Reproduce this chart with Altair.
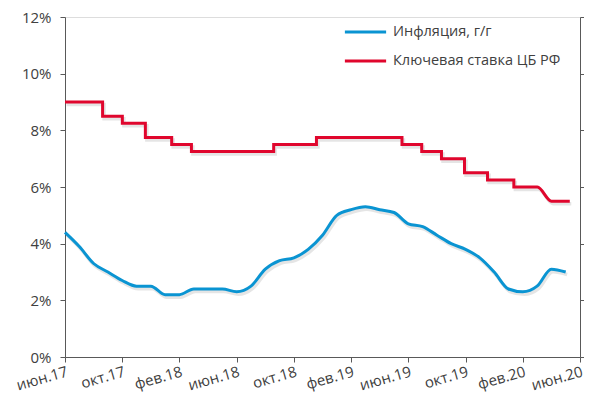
import altair as alt
import pandas as pd

# ---- data ----
tick_labels = ["июн.17", "окт.17", "фев.18", "июн.18", "окт.18", "фев.19",
               "июн.19", "окт.19", "фев.20", "июн.20"]
tick_months = [0, 4, 8, 12, 16, 20, 24, 28, 32, 36]

infl_months = list(range(36))  # month-ends from June 2017
inflation = [4.4, 3.9, 3.3, 3.0, 2.7, 2.5, 2.5, 2.2, 2.2, 2.4, 2.4, 2.4,
             2.3, 2.5, 3.1, 3.4, 3.5, 3.8, 4.3, 5.0, 5.2, 5.3, 5.2, 5.1,
             4.7, 4.6, 4.3, 4.0, 3.8, 3.5, 3.0, 2.4, 2.3, 2.5, 3.1, 3.0]

rate_dates = ["2017-06-30", "2017-09-18", "2017-10-30", "2017-12-18",
              "2018-02-12", "2018-03-26", "2018-09-17", "2018-12-17",
              "2019-06-17", "2019-07-29", "2019-09-09", "2019-10-28",
              "2019-12-16", "2020-02-10"]
rate_values = [9.0, 8.5, 8.25, 7.75, 7.5, 7.25, 7.5, 7.75, 7.5, 7.25,
               7.0, 6.5, 6.25, 6.0]
rate_tail_dates = ["2020-03-31", "2020-04-30", "2020-06-08"]
rate_tail_values = [6.0, 5.5, 5.5]

S_INF = "Инфляция, г/г"
S_KEY = "Ключевая ставка ЦБ РФ"

start = pd.Timestamp("2017-06-30")
def to_month(d):
    return (pd.Timestamp(d) - start).days / 30.4375

rows = []
for i, (m, v) in enumerate(zip(infl_months, inflation)):
    rows.append({"series": S_INF, "m": m, "v": v, "o": i})
seq = 0
rows.append({"series": S_KEY, "m": to_month(rate_dates[0]), "v": rate_values[0], "o": seq})
for i in range(1, len(rate_dates)):
    seq += 1
    rows.append({"series": S_KEY, "m": to_month(rate_dates[i]), "v": rate_values[i - 1], "o": seq})
    seq += 1
    rows.append({"series": S_KEY, "m": to_month(rate_dates[i]), "v": rate_values[i], "o": seq})
for d, v in zip(rate_tail_dates, rate_tail_values):
    seq += 1
    rows.append({"series": S_KEY, "m": to_month(d), "v": v, "o": seq})
df = pd.DataFrame(rows)

FONT = "Open Sans"
AX = "#595959"
TXT = "#404040"
FS = 15

label_js = "[" + ",".join("'" + t + "'" for t in tick_labels) + "]"

x = alt.X("m:Q", scale=alt.Scale(domain=[0, 36], nice=False, zero=False),
          axis=alt.Axis(values=tick_months, title=None, grid=False,
                        labelExpr=label_js + "[round(datum.value/4)]",
                        labelAngle=-16, labelAlign="right", labelBaseline="top",
                        labelPadding=2, tickSize=5, labelFlush=False,
                        labelOverlap=False, labelBound=False,
                        labelFontSize=FS, labelFont=FONT, labelColor=TXT,
                        domainColor=AX, tickColor=AX))
yscale = alt.Scale(domain=[0, 12], nice=False)

color = alt.Color("series:N",
                  scale=alt.Scale(domain=[S_INF, S_KEY], range=["#0A94D2", "#E0062D"]),
                  legend=alt.Legend(title=None, orient="none", legendX=278, legendY=-7.5,
                                    symbolType="stroke", symbolSize=1700,
                                    symbolStrokeWidth=3, rowPadding=-14,
                                    labelFontSize=14.5, labelFont=FONT, labelLimit=0,
                                    labelColor=TXT, labelOffset=5))

base = alt.Chart(df)

shadow = base.mark_line(strokeWidth=3.5, interpolate="monotone", color="#000000",
                        opacity=0.1, xOffset=1.5, yOffset=2.5).encode(
    x=x,
    y=alt.Y("v:Q", scale=yscale, axis=None),
    order="o:Q",
    detail="series:N",
)

lines = base.mark_line(strokeWidth=3, interpolate="monotone").encode(
    x=x,
    y=alt.Y("v:Q", scale=yscale,
            axis=alt.Axis(values=[0, 2, 4, 6, 8, 10, 12], title=None, grid=False,
                          labelExpr="datum.value + '%'", orient="left",
                          tickSize=5, labelPadding=9,
                          labelFontSize=FS, labelFont=FONT, labelColor=TXT,
                          domainColor=AX, tickColor=AX)),
    color=color,
    order="o:Q",
    detail="series:N",
)

right_axis = base.mark_line(opacity=0).encode(
    x=x,
    y=alt.Y("v:Q", scale=yscale,
            axis=alt.Axis(values=[0, 2, 4, 6, 8, 10, 12], title=None, grid=False,
                          labels=False, orient="right", tickSize=4,
                          domainColor=AX, tickColor=AX)),
    detail="series:N",
)

chart = alt.layer(shadow, lines, right_axis).resolve_axis(y="independent").properties(
    width=515, height=340,
    autosize=alt.AutoSizeParams(type="none"),
    padding={"left": 57, "top": 9, "right": 4, "bottom": 36},
).configure_view(stroke=None).configure_axis(
    domainWidth=1.2, tickWidth=1.2,
).configure(background="white")

chart.save("out.html", embed_options={"renderer": "svg", "actions": False})
